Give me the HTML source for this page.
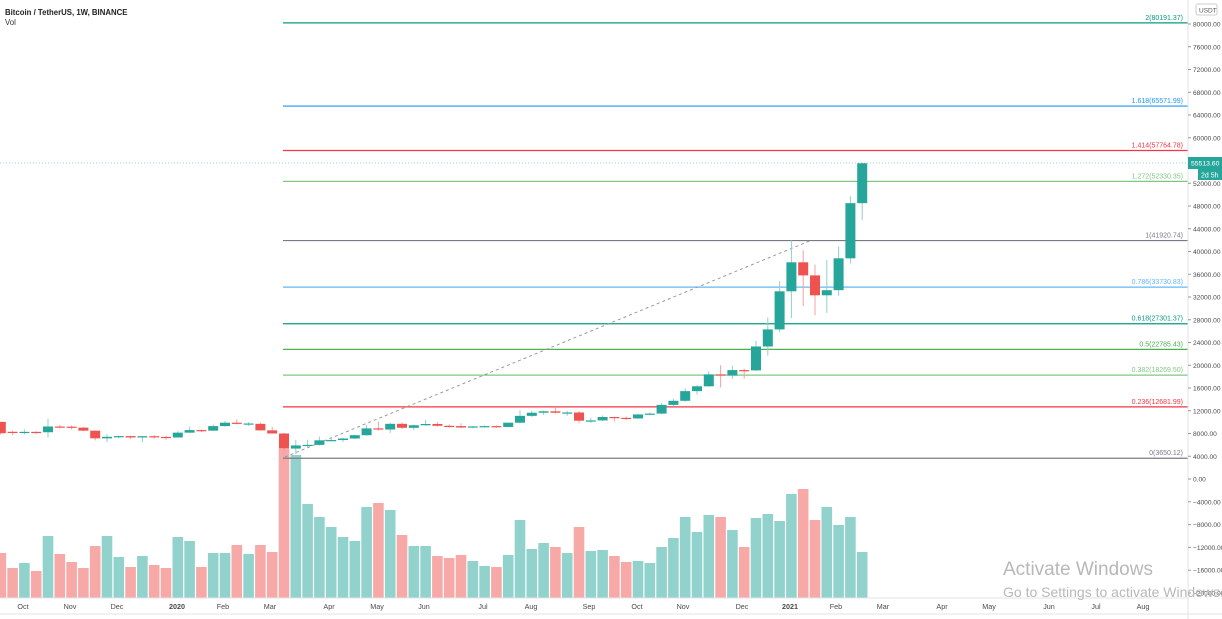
<!DOCTYPE html>
<html><head><meta charset="utf-8"><style>
html,body{margin:0;padding:0;background:#fff;width:1222px;height:619px;overflow:hidden}
svg{display:block;font-family:"Liberation Sans",sans-serif}
</style></head><body>
<svg id="s" width="1222" height="619" xmlns="http://www.w3.org/2000/svg"></svg>
<script>
const s=document.getElementById('s');let h='';
const Y=p=>479-p*0.0056875;
const X=i=>284+(i-24)*11.8;
const C=[[10040,10050,7800,8043],[8300,8500,7710,8200],[8200,8750,7850,8290],[8290,8400,7900,8220],[8220,10540,7300,9230],[9230,9500,8900,9200],[9200,9400,8700,9030],[9030,9150,8400,8500],[8500,8500,6790,7150],[7150,7870,6500,7420],[7420,7650,7150,7540],[7540,7600,7000,7300],[7300,7550,6430,7520],[7520,7700,7100,7400],[7400,7600,6900,7300],[7300,8400,7300,8150],[8150,9200,8100,8600],[8600,8700,8250,8500],[8500,9600,8450,9300],[9300,10200,9200,9900],[9900,10500,9600,9700],[9700,10000,9300,9760],[9700,9950,8500,8550],[8550,9180,8000,8000],[8000,8100,3800,5350],[5350,6900,4400,5900],[5900,6900,5650,6000],[6000,7450,5850,6800],[6800,7450,6600,6850],[6850,7300,6500,7120],[7120,7800,7000,7700],[7700,9460,7600,8900],[8900,10070,8500,8700],[8700,9900,8100,9700],[9700,9950,8800,9000],[9000,9600,8600,9450],[9450,10400,9350,9670],[9670,10000,9200,9350],[9350,9600,9000,9300],[9300,9800,8950,9050],[9050,9300,8900,9250],[9250,9450,9050,9300],[9300,9400,9000,9150],[9150,9900,9150,9900],[9900,12100,9800,11100],[11100,12000,10900,11650],[11650,12050,11250,11900],[11900,12500,11500,11650],[11650,12000,11100,11700],[11700,12000,9800,10250],[10250,10800,9850,10300],[10300,11180,10200,10900],[10900,10950,10150,10750],[10750,11000,10400,10650],[10650,11500,10550,11350],[11350,11700,11200,11500],[11500,13350,11400,13030],[13030,14100,12800,13750],[13750,15950,13550,15450],[15450,16500,14850,16300],[16300,18950,16200,18400],[18400,20000,16100,18200],[18200,19900,17600,19150],[19150,19400,17650,19050],[19100,24300,19000,23300],[23300,28400,21700,26300],[26300,34800,25800,33000],[33000,41950,28300,38100],[38100,40200,30400,35800],[35800,37700,28800,32300],[32300,38500,29200,33200],[33200,40900,32200,38800],[38800,49700,37900,48500],[48500,55650,45500,55513]];
const V=[553,568,563,571,536,554,562,568,546,536,557,567,556,565,568,537,541,567,553,553,545,554,545,552,449,455,504,517,527,537,541,507,503,510,535,546,546,556,558,555,561,566,567,555,520,549,543,547,553,527,551,550,556,562,561,563,547,538,517,532,515,517,530,547,518,514,521,494,489,520,507,525,517,552];
C.forEach((c,i)=>{const up=c[3]>=c[0];const x=X(i);
h+=`<rect x="${x-5.3}" y="${V[i]}" width="10.6" height="${598-V[i]}" fill="${up?'#92d2cc':'#f7a9a7'}"/>`;});
const F=[[0,'3650.12','#787b86'],[0.236,'12681.99','#f23645'],[0.382,'18269.50','#81c784'],[0.5,'22785.43','#4caf50'],[0.618,'27301.37','#089981'],[0.786,'33730.83','#64b5f6'],[1,'41920.74','#787b86'],[1.272,'52330.35','#81c784'],[1.414,'57764.78','#f23645'],[1.618,'65571.99','#2196f3'],[2,'80191.37','#089981']];
F.forEach(f=>{const y=Y(parseFloat(f[1]));h+=`<line x1="283" x2="1188" y1="${y}" y2="${y}" stroke="${f[2]}" stroke-width="1.2"/><text x="1183" y="${y-3}" font-size="7" fill="${f[2]}" text-anchor="end">${f[0]}(${f[1]})</text>`;});
h+=`<line x1="285" y1="457" x2="812" y2="240" stroke="#9a9a9a" stroke-dasharray="3,3" stroke-width="1"/>`;
h+=`<line x1="0" x2="1188" y1="163" y2="163" stroke="#9fd6cf" stroke-dasharray="1,2" stroke-width="1"/>`;
C.forEach((c,i)=>{const up=c[3]>=c[0];const x=X(i);const col=up?'#26a69a':'#ef5350';const wc=up?'#8fd1c9':'#f5a0a0';
const t=Y(Math.max(c[0],c[3])),b=Y(Math.min(c[0],c[3]));
h+=`<line x1="${x}" x2="${x}" y1="${Y(c[1])}" y2="${Y(c[2])}" stroke="${wc}" stroke-width="1"/><rect x="${x-5}" y="${t}" width="10" height="${Math.max(1.2,b-t)}" fill="${col}"/>`;});
h+=`<rect x="1188" y="0" width="34" height="619" fill="#fff"/><line x1="1188" x2="1188" y1="0" y2="619" stroke="#e0e3eb"/>`;
h+=`<line x1="0" x2="1188" y1="598" y2="598" stroke="#e0e3eb"/><line x1="0" x2="1222" y1="614" y2="614" stroke="#e0e3eb"/>`;
for(let p=80000;p>=4000;p-=4000){const y=Y(p);h+=`<line x1="1188" x2="1191" y1="${y}" y2="${y}" stroke="#999"/><text x="1193" y="${y+2.5}" font-size="6.6" fill="#4a4a4a">${p}.00</text>`;}
for(let k=0;k<=5;k++){const y=479+k*22.8;h+=`<line x1="1188" x2="1191" y1="${y}" y2="${y}" stroke="#999"/><text x="1193" y="${y+2.5}" font-size="6.6" fill="#4a4a4a">${k?'−'+(k*4000):'0'}.00</text>`;}
h+=`<rect x="1188" y="157" width="34" height="12" fill="#26a69a"/><text x="1191" y="165.5" font-size="6.8" fill="#fff">55513.60</text>`;
h+=`<rect x="1198" y="169" width="24" height="11" fill="#26a69a"/><text x="1201" y="177.5" font-size="7" fill="#fff">2d 5h</text>`;
h+=`<rect x="1196" y="4" width="21" height="11" rx="2" fill="#fff" stroke="#ccc"/><text x="1199" y="12.5" font-size="6.5" fill="#555">USDT</text>`;
const M=[['Oct',23],['Nov',70],['Dec',117],['2020',177,1],['Feb',223],['Mar',270],['Apr',329],['May',377],['Jun',424],['Jul',483],['Aug',531],['Sep',589],['Oct',637],['Nov',683],['Dec',742],['2021',790,1],['Feb',836],['Mar',883],['Apr',942],['May',989],['Jun',1049],['Jul',1096],['Aug',1143]];
M.forEach(m=>{h+=`<text x="${m[1]}" y="609" font-size="7.2" fill="#4a4a4a" text-anchor="middle" ${m[2]?'font-weight="bold"':''}>${m[0]}</text>`;});
h+=`<text x="5" y="15" font-size="7.8" font-weight="bold" fill="#222">Bitcoin / TetherUS, 1W, BINANCE</text><text x="5" y="25" font-size="7.8" fill="#333">Vol</text>`;
h+=`<text x="1003" y="575" font-size="19" fill="#b8b8b8">Activate Windows</text><text x="1003" y="597" font-size="14" fill="#b8b8b8">Go to Settings to activate Windows.</text>`;
s.innerHTML=h;
</script>
</body></html>
